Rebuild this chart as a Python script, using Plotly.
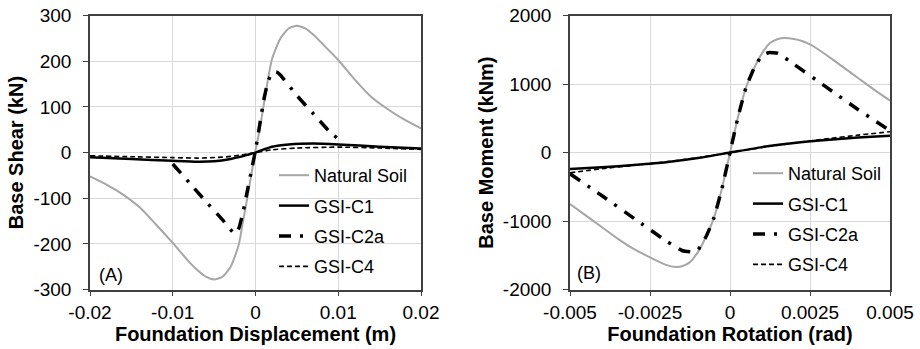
import plotly.graph_objects as go

# ---------------- Data: (A) Base shear vs foundation displacement ----------------
disp_nat = [-0.02, -0.018, -0.016, -0.014, -0.012, -0.01, -0.008, -0.007, -0.006, -0.005,
            -0.004, -0.003, -0.0025, -0.002, -0.0015, -0.001, -0.0005, 0.0, 0.0005, 0.001,
            0.0015, 0.002, 0.003, 0.004, 0.005, 0.006, 0.007, 0.008, 0.01, 0.012, 0.014,
            0.016, 0.018, 0.02]
shear_nat = [-52, -70, -92, -120, -158, -198, -240, -258, -272, -278,
             -272, -250, -228, -200, -150, -100, -48, 5, 50, 105,
             160, 205, 250, 272, 278, 272, 258, 240, 203, 160, 122,
             95, 72, 53]

disp_c1 = [-0.02, -0.015, -0.01, -0.007, -0.005, -0.003, -0.002, -0.001, 0.0, 0.001,
           0.002, 0.004, 0.007, 0.01, 0.015, 0.02]
shear_c1 = [-10, -14, -18, -20, -19, -14, -10, -5, 0, 7,
            13, 18, 20, 18, 13, 9]

disp_c2a = [-0.01, -0.008, -0.006, -0.004, -0.0025, -0.002, -0.0015, -0.001, -0.0005, 0.0,
            0.0005, 0.001, 0.0015, 0.002, 0.0025, 0.003, 0.005, 0.007, 0.009, 0.01]
shear_c2a = [-25, -66, -107, -147, -178, -165, -130, -85, -40, 5,
             60, 115, 155, 175, 177, 170, 125, 85, 45, 30]

disp_c4 = [-0.02, -0.015, -0.01, -0.007, -0.004, -0.002, 0.0, 0.002, 0.005, 0.01, 0.015, 0.02]
shear_c4 = [-7, -9, -11, -12, -10, -6, 0, 6, 10, 12, 10, 7]

# ---------------- Data: (B) Base moment vs foundation rotation ----------------
rot_nat = [-0.005, -0.0045, -0.004, -0.0035, -0.003, -0.0025, -0.002, -0.0017, -0.0015,
           -0.00125, -0.001, -0.00075, -0.0005, -0.00025, 0.0, 0.00025, 0.0005, 0.00075,
           0.001, 0.00125, 0.0015, 0.0017, 0.002, 0.00225, 0.0025, 0.00275, 0.003, 0.0035,
           0.004, 0.0045, 0.005]
mom_nat = [-750, -920, -1090, -1260, -1410, -1530, -1640, -1670, -1660,
           -1600, -1450, -1230, -950, -520, 0, 520, 950, 1230,
           1450, 1600, 1660, 1675, 1660, 1630, 1580, 1510, 1430, 1260,
           1090, 920, 760]

rot_c1 = [-0.005, -0.004, -0.003, -0.002, -0.001, 0.0, 0.001, 0.002, 0.003, 0.004, 0.005]
mom_c1 = [-240, -215, -180, -140, -80, 0, 80, 140, 185, 220, 245]

rot_c2a = [-0.005, -0.004, -0.003, -0.002, -0.0015, -0.0012, -0.001, -0.00075, -0.0005,
           -0.00025, 0.0, 0.00025, 0.0005, 0.00075, 0.001, 0.0012, 0.0015, 0.002, 0.003,
           0.004, 0.005]
mom_c2a = [-310, -630, -960, -1290, -1430, -1450, -1420, -1230, -950,
           -520, 0, 520, 950, 1230, 1420, 1460, 1450, 1290, 960,
           630, 320]

rot_c4 = [-0.005, -0.004, -0.003, -0.002, -0.001, 0.0, 0.001, 0.002, 0.003, 0.004, 0.005]
mom_c4 = [-295, -235, -185, -135, -75, 0, 75, 140, 200, 255, 305]

series_names = ["Natural Soil", "GSI-C1", "GSI-C2a", "GSI-C4"]

xA_ticks = [-0.02, -0.01, 0, 0.01, 0.02]
xA_text = ["-0.02", "-0.01", "0", "0.01", "0.02"]
yA_ticks = [-300, -200, -100, 0, 100, 200, 300]
yA_text = ["-300", "-200", "-100", "0", "100", "200", "300"]
xB_ticks = [-0.005, -0.0025, 0, 0.0025, 0.005]
xB_text = ["-0.005", "-0.0025", "0", "0.0025", "0.005"]
yB_ticks = [-2000, -1000, 0, 1000, 2000]
yB_text = ["-2000", "-1000", "0", "1000", "2000"]

# ---------------- Styles ----------------
FONT = "Liberation Sans, Arial, sans-serif"
styles = [
    dict(color="#a6a6a6", width=2, dash="solid", shape="spline", smoothing=0.6),
    dict(color="#000000", width=2.5, dash="solid", shape="spline", smoothing=0.6),
    dict(color="#000000", width=3.5, dash="12px,9px,3px,9px", shape="spline", smoothing=0.4),
    dict(color="#000000", width=1.6, dash="5px,3px", shape="spline", smoothing=0.6),
]

fig = go.Figure()

left_data = [(disp_nat, shear_nat), (disp_c1, shear_c1), (disp_c2a, shear_c2a), (disp_c4, shear_c4)]
right_data = [(rot_nat, mom_nat), (rot_c1, mom_c1), (rot_c2a, mom_c2a), (rot_c4, mom_c4)]

for i, (name, (xs, ys)) in enumerate(zip(series_names, left_data)):
    fig.add_trace(go.Scatter(x=xs, y=ys, mode="lines", name=name, line=styles[i],
                             xaxis="x", yaxis="y", legend="legend", legendgroup="A" + str(i)))
for i, (name, (xs, ys)) in enumerate(zip(series_names, right_data)):
    fig.add_trace(go.Scatter(x=xs, y=ys, mode="lines", name=name, line=styles[i],
                             xaxis="x2", yaxis="y2", legend="legend2", legendgroup="B" + str(i)))

W, H = 920, 349
ydom = [1 - 289.5 / H, 1 - 15.7 / H]

axis_common = dict(
    showline=True, linecolor="#404040", linewidth=1.5, mirror=True,
    showgrid=True, gridcolor="#d9d9d9", gridwidth=1, zeroline=False,
    ticks="outside", ticklen=5, tickcolor="#404040", tickwidth=1.2,
    tickfont=dict(family=FONT, size=19, color="#000000"),
    tickmode="array", automargin=False,
)
title_font = dict(family=FONT, size=20, color="#000000", weight="bold")

legend_common = dict(
    font=dict(family=FONT, size=18, color="#000000"),
    bgcolor="rgba(255,255,255,0)", borderwidth=0,
    tracegroupgap=4, xanchor="left", yanchor="top",
)

fig.update_layout(
    width=W, height=H,
    margin=dict(l=0, r=0, t=0, b=0, autoexpand=False),
    paper_bgcolor="white", plot_bgcolor="white",
    showlegend=True,
    xaxis=dict(axis_common, domain=[90 / W, 421 / W], range=[-0.02, 0.02],
               tickvals=xA_ticks, ticktext=xA_text, anchor="y",
               title=dict(text="Foundation Displacement (m)", font=title_font, standoff=2)),
    yaxis=dict(axis_common, domain=ydom, range=[-300, 300],
               tickvals=yA_ticks, ticktext=yA_text, anchor="x", ticklabelstandoff=8,
               title=dict(text="Base Shear (kN)", font=title_font, standoff=4)),
    xaxis2=dict(axis_common, domain=[570 / W, 890 / W], range=[-0.005, 0.005],
                tickvals=xB_ticks, ticktext=xB_text, anchor="y2",
                title=dict(text="Foundation Rotation (rad)", font=title_font, standoff=2)),
    yaxis2=dict(axis_common, domain=ydom, range=[-2000, 2000],
                tickvals=yB_ticks, ticktext=yB_text, anchor="x2", ticklabelstandoff=8,
                title=dict(text="Base Moment (kNm)", font=title_font, standoff=4)),
    legend=dict(legend_common, x=274 / W, y=1 - 157 / H),
    legend2=dict(legend_common, x=748 / W, y=1 - 155 / H),
    annotations=[
        dict(text="(A)", xref="paper", yref="paper", x=97 / W, y=1 - 275 / H,
             xanchor="left", yanchor="middle", showarrow=False,
             font=dict(family=FONT, size=18, color="#000000")),
        dict(text="(B)", xref="paper", yref="paper", x=575 / W, y=1 - 273 / H,
             xanchor="left", yanchor="middle", showarrow=False,
             font=dict(family=FONT, size=18, color="#000000")),
    ],
)

fig.write_html("out.html")
